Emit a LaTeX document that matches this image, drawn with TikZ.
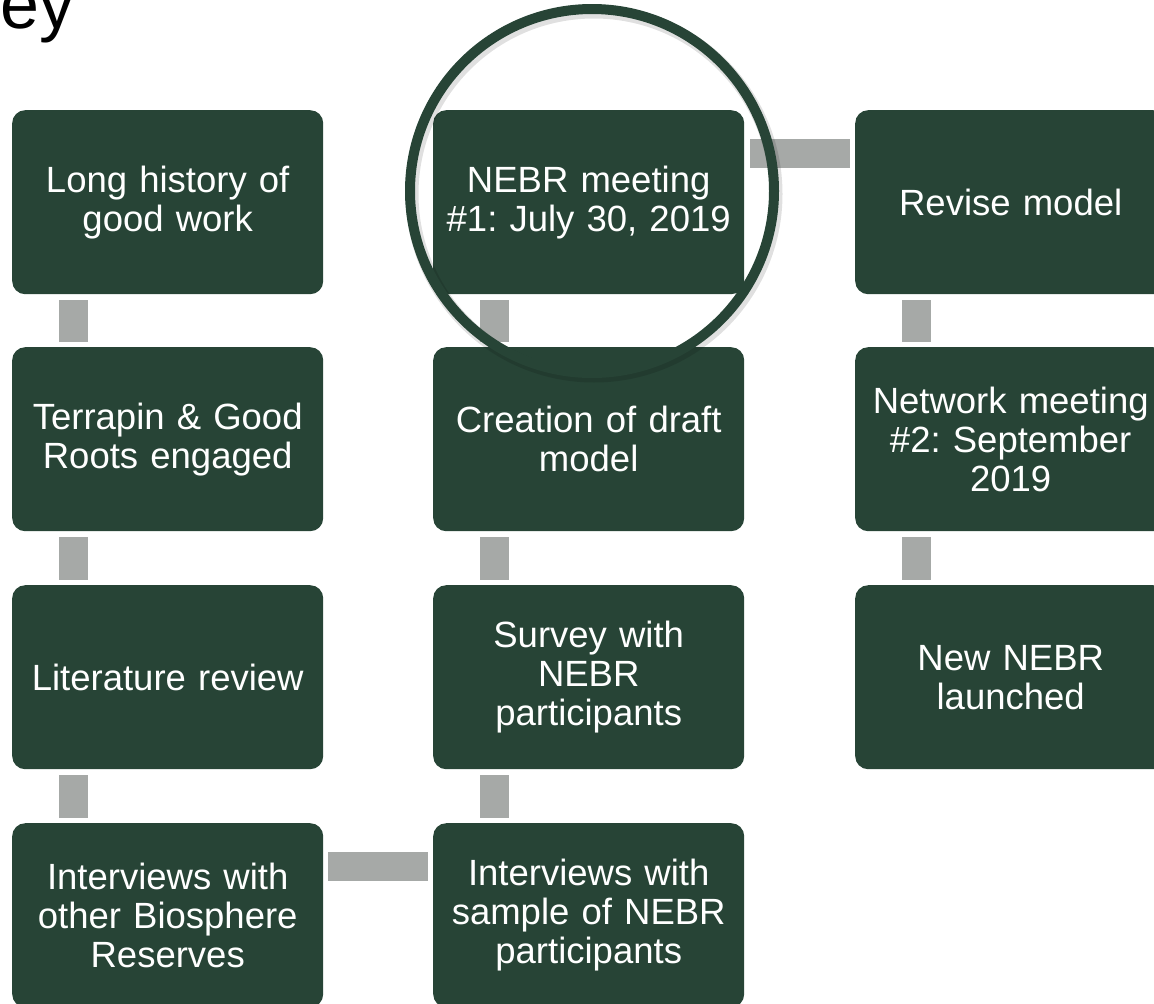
\documentclass[tikz,border=0pt]{standalone}
\usepackage{fontspec}
\setmainfont{Liberation Sans}
\frenchspacing
\definecolor{boxgreen}{RGB}{39,68,54}
\definecolor{conngray}{RGB}{166,169,167}
\tikzset{
  stepbox/.style={anchor=north west, fill=boxgreen, rounded corners=13pt,
    minimum width=311pt, minimum height=184pt, inner sep=0pt,
    text=white, align=center, text width=305pt,
    font=\frenchspacing\fontsize{36.5}{39}\selectfont},
  conn/.style={draw=conngray, line width=29pt, line cap=butt},
}
\begin{document}
\begin{tikzpicture}[x=1pt,y=-1pt]
\useasboundingbox (0,0) rectangle (1154,1004);
\clip (0,0) rectangle (1154,1004);
% title fragment
\node[anchor=base west, inner sep=0pt, font=\fontsize{70}{80}\selectfont] (title) at (0,28) {ey};
% column 1
\node[stepbox] (a1) at (12,110) {Long history of\\good work};
\node[stepbox] (a2) at (12,347) {Terrapin \& Good\\Roots engaged};
\node[stepbox] (a3) at (12,585) {Literature review};
\node[stepbox] (a4) at (12,823) {Interviews with\\other Biosphere\\Reserves};
% column 2
\node[stepbox] (b1) at (433,110) {NEBR meeting\\\#1: July 30, 2019};
\node[stepbox] (b2) at (433,347) {Creation of draft\\model};
\node[stepbox] (b3) at (433,585) {Survey with\\NEBR\\participants};
\node[stepbox] (b4) at (433,823) {Interviews with\\sample of NEBR\\participants};
% column 3
\node[stepbox] (c1) at (855,110) {Revise model};
\node[stepbox] (c2) at (855,347) {Network meeting\\\#2: September\\2019};
\node[stepbox] (c3) at (855,585) {New NEBR\\launched};
% vertical connectors
\foreach \u/\l in {a1/a2,a2/a3,a3/a4,b1/b2,b2/b3,b3/b4,c1/c2,c2/c3}{
  \draw[conn] ([xshift=61.5pt,yshift=-6pt]\u.south west) -- ([xshift=61.5pt,yshift=5pt]\l.north west);
}
% horizontal connectors
\draw[conn] ([xshift=5pt,yshift=-43.5pt]a4.north east) -- ([xshift=-5pt,yshift=-43.5pt]b4.north west);
\draw[conn] ([xshift=6pt,yshift=-43pt]b1.north east) -- ([xshift=-5pt,yshift=-43pt]c1.north west);
% highlight ring with faint shadow
\node[circle, draw=black, draw opacity=0.12, line width=13pt, minimum size=364pt, inner sep=0pt] (ringshadow) at (594,194) {};
\node[circle, draw=boxgreen, line width=10pt, minimum size=364pt, inner sep=0pt] (ring) at (592,191) {};
\end{tikzpicture}
\end{document}
